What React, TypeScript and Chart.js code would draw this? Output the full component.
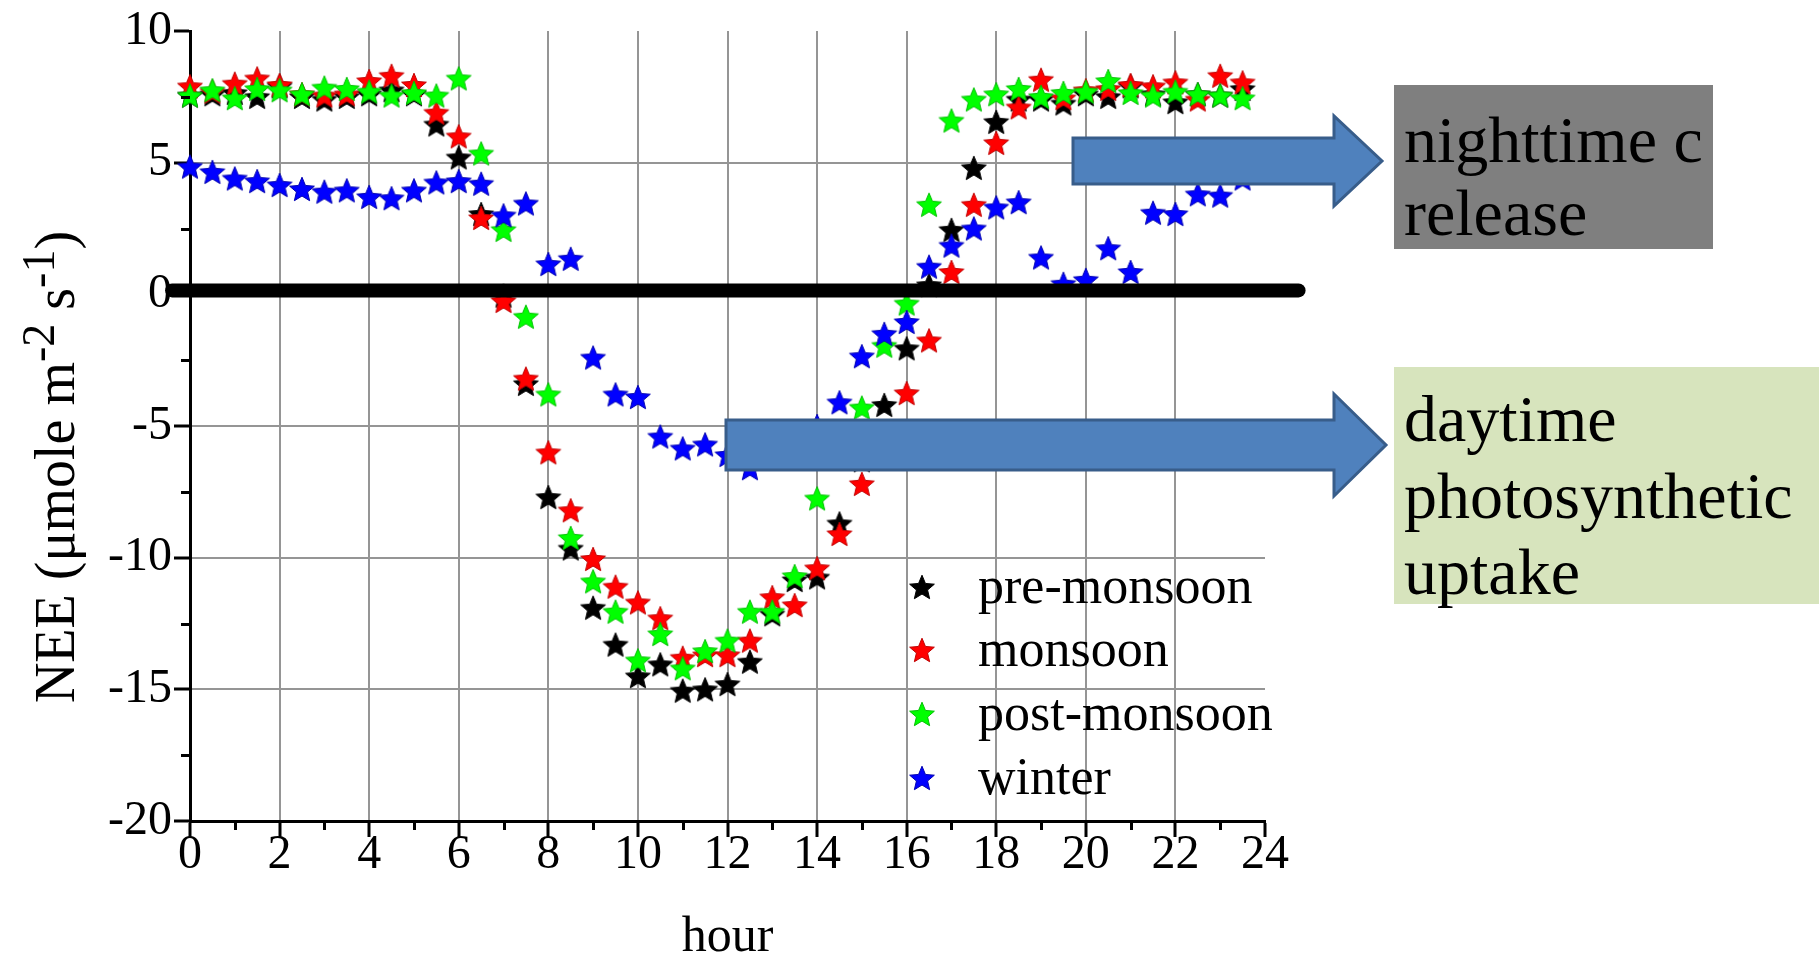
import React, { useEffect, useRef } from 'react';
import { Chart, registerables } from 'chart.js';

Chart.register(...registerables);

const FONT = "'Liberation Serif', 'Times New Roman', Times, serif";

// ---------------- data ----------------
const hours = [
  0, 0.5, 1, 1.5, 2, 2.5, 3, 3.5, 4, 4.5, 5, 5.5, 6, 6.5, 7, 7.5, 8, 8.5, 9, 9.5, 10, 10.5, 11, 11.5,
  12, 12.5, 13, 13.5, 14, 14.5, 15, 15.5, 16, 16.5, 17, 17.5, 18, 18.5, 19, 19.5, 20, 20.5, 21, 21.5, 22, 22.5, 23, 23.5,
];

const preMonsoon = [
  7.55, 7.6, 7.65, 7.5, 7.9, 7.5, 7.4, 7.5, 7.6, 7.75, 7.6, 6.45, 5.2, 3.05, -0.05, -3.4, -7.7, -9.65, -11.9, -13.3,
  -14.5, -14.05, -15.05, -15.0, -14.8, -13.95, -12.15, -10.85, -10.75, -8.7, -6.3, -4.2, -2.05, 0.35, 2.45, 4.8,
  6.55, 7.4, 7.4, 7.25, 7.6, 7.5, 7.9, 7.6, 7.3, 7.6, 7.55, 7.8,
];

const monsoon = [
  7.9, 7.7, 8.0, 8.2, 7.95, 7.6, 7.55, 7.6, 8.1, 8.3, 7.95, 6.9, 6.0, 2.9, -0.25, -3.2, -6.0, -8.2, -10.05, -11.1,
  -11.7, -12.3, -13.8, -13.7, -13.7, -13.15, -11.5, -11.8, -10.4, -9.1, -7.2, -5.6, -3.75, -1.75, 0.85, 3.4,
  5.75, 7.1, 8.15, 7.45, 7.75, 7.8, 7.95, 7.9, 8.05, 7.4, 8.3, 8.05,
];

const postMonsoon = [
  7.55, 7.75, 7.45, 7.8, 7.75, 7.6, 7.85, 7.8, 7.7, 7.55, 7.65, 7.55, 8.2, 5.35, 2.45, -0.85, -3.8, -9.25, -10.9, -12.05,
  -13.9, -12.9, -14.2, -13.55, -13.15, -12.05, -12.05, -10.7, -7.75, -6.0, -4.3, -1.95, -0.35, 3.4, 6.6, 7.4,
  7.6, 7.8, 7.5, 7.65, 7.7, 8.1, 7.65, 7.55, 7.7, 7.6, 7.55, 7.45,
];

const winter = [
  4.85, 4.65, 4.4, 4.3, 4.15, 4.0, 3.9, 3.95, 3.7, 3.65, 3.95, 4.25, 4.3, 4.2, 3.0, 3.45, 1.15, 1.35, -2.4, -3.8,
  -3.9, -5.4, -5.85, -5.7, -6.1, -6.6, -6.2, -5.6, -5.0, -4.1, -2.35, -1.5, -1.05, 1.05, 1.85, 2.5,
  3.3, 3.5, 1.4, 0.4, 0.55, 1.75, 0.85, 3.1, 3.05, 3.8, 3.75, 4.4,
];

const seriesNames = ['pre-monsoon', 'monsoon', 'post-monsoon', 'winter'];
const seriesColors = ['#000000', '#ff0000', '#00ff00', '#0000ff'];
const seriesEdges = ['#000000', '#c00000', '#00c000', '#0000b0'];
const drawOrder = [3, 2, 1, 0];

const xMin = 0;
const xMax = 24;
const xStep = 1;
const yMin = -20;
const yMax = 10;
const yStep = 2.5;

const xTitle = 'hour';
const yTitleParts = [
  { text: 'NEE (\u03bcmole m', sup: false },
  { text: '-2', sup: true },
  { text: ' s', sup: false },
  { text: '-1', sup: true },
  { text: ')', sup: false },
];

const zeroLineValue = 0.15;
const zeroLineFrom = -0.4;
const zeroLineTo = 24.75;

const nightText = ['nighttime c', 'release'];
const dayText = ['daytime', 'photosynthetic', 'uptake'];

// ---------------- helpers ----------------
function makeStar(fill: string, edge: string) {
  const size = 30;
  const c = document.createElement('canvas');
  c.width = size;
  c.height = size;
  const g = c.getContext('2d') as CanvasRenderingContext2D;
  const R = 13;
  const r = R * 0.45;
  const cx = size / 2;
  const cy = size / 2 + 1.2;
  g.beginPath();
  for (let i = 0; i < 10; i++) {
    const a = -Math.PI / 2 + (i * Math.PI) / 5;
    const rad = i % 2 === 0 ? R : r;
    g.lineTo(cx + rad * Math.cos(a), cy + rad * Math.sin(a));
  }
  g.closePath();
  g.fillStyle = fill;
  g.fill();
  g.lineWidth = 1;
  g.strokeStyle = edge;
  g.stroke();
  return c;
}

function drawArrow(
  ctx: CanvasRenderingContext2D,
  x0: number,
  x1: number,
  tip: number,
  cy: number,
  shaftHalf: number,
  headHalf: number
) {
  ctx.beginPath();
  ctx.moveTo(x0, cy - shaftHalf);
  ctx.lineTo(x1, cy - shaftHalf);
  ctx.lineTo(x1, cy - headHalf);
  ctx.lineTo(tip, cy);
  ctx.lineTo(x1, cy + headHalf);
  ctx.lineTo(x1, cy + shaftHalf);
  ctx.lineTo(x0, cy + shaftHalf);
  ctx.closePath();
  ctx.fillStyle = '#4f81bd';
  ctx.fill();
  ctx.lineWidth = 3;
  ctx.lineJoin = 'miter';
  ctx.strokeStyle = '#385d8a';
  ctx.stroke();
}

export default function App() {
  const ref = useRef<HTMLCanvasElement>(null);

  useEffect(() => {
    const canvas = ref.current;
    if (!canvas) return;
    Chart.defaults.font.family = FONT;

    const stars = seriesColors.map((c, i) => makeStar(c, seriesEdges[i]));
    const seriesValues = [preMonsoon, monsoon, postMonsoon, winter];

    const datasets = seriesNames.map((name, i) => ({
      label: name,
      data: hours.map((h, j) => ({ x: h, y: seriesValues[i][j] })),
      pointStyle: stars[i] as any,
      pointRadius: 12,
      showLine: false,
      order: drawOrder[i],
      clip: false as any,
      backgroundColor: seriesColors[i],
      borderColor: seriesColors[i],
    }));

    const overlay = {
      id: 'overlay',
      afterDraw(chart: any) {
        const ctx: CanvasRenderingContext2D = chart.ctx;
        const xs = chart.scales.x;
        const ys = chart.scales.y;
        const area = chart.chartArea;
        ctx.save();

        // minor ticks
        ctx.strokeStyle = '#000';
        ctx.lineWidth = 3;
        xs.ticks.forEach((t: any) => {
          if (t.value % 2 !== 0) {
            const p = Math.round(xs.getPixelForValue(t.value)) + 0.5;
            ctx.beginPath();
            ctx.moveTo(p, area.bottom);
            ctx.lineTo(p, area.bottom + 9);
            ctx.stroke();
          }
        });
        ys.ticks.forEach((t: any) => {
          if (t.value % 5 !== 0) {
            const p = Math.round(ys.getPixelForValue(t.value)) + 0.5;
            ctx.beginPath();
            ctx.moveTo(area.left - 9, p);
            ctx.lineTo(area.left, p);
            ctx.stroke();
          }
        });

        // thick zero line
        ctx.beginPath();
        ctx.lineCap = 'round';
        ctx.lineWidth = 14;
        ctx.strokeStyle = '#000';
        const zy = ys.getPixelForValue(zeroLineValue);
        ctx.moveTo(xs.getPixelForValue(zeroLineFrom), zy);
        ctx.lineTo(xs.getPixelForValue(zeroLineTo), zy);
        ctx.stroke();
        ctx.lineCap = 'butt';

        // arrows
        drawArrow(ctx, 1073, 1334, 1382, 161, 23, 45);
        drawArrow(ctx, 726, 1334, 1386, 445, 25, 51);

        // boxes
        ctx.fillStyle = '#7f7f7f';
        ctx.fillRect(1394, 85, 319, 164);
        ctx.fillStyle = '#d7e4bd';
        ctx.fillRect(1394, 367, 425, 237);
        ctx.fillStyle = '#000';
        ctx.font = `66px ${FONT}`;
        ctx.textAlign = 'left';
        ctx.textBaseline = 'alphabetic';
        const nightBase = [162, 235];
        nightText.forEach((t, i) => ctx.fillText(t, 1404, nightBase[i]));
        const dayBase = [441, 518, 594];
        dayText.forEach((t, i) => ctx.fillText(t, 1404, dayBase[i]));

        // legend
        const legRows = [587, 650, 714, 778];
        ctx.font = `52px ${FONT}`;
        ctx.textBaseline = 'middle';
        seriesNames.forEach((n, i) => {
          const s = stars[i];
          ctx.drawImage(s, 922 - s.width / 2, legRows[i] - s.height / 2);
          ctx.fillStyle = '#000';
          ctx.fillText(n, 978, legRows[i] + 2);
        });

        // y title with superscripts
        ctx.save();
        ctx.translate(74, 467);
        ctx.rotate(-Math.PI / 2);
        ctx.textBaseline = 'alphabetic';
        ctx.textAlign = 'left';
        ctx.fillStyle = '#000';
        let total = 0;
        const widths = yTitleParts.map((p) => {
          ctx.font = p.sup ? `46px ${FONT}` : `56px ${FONT}`;
          const w = ctx.measureText(p.text).width;
          total += w;
          return w;
        });
        let x = -total / 2;
        yTitleParts.forEach((p, i) => {
          ctx.font = p.sup ? `46px ${FONT}` : `56px ${FONT}`;
          ctx.fillText(p.text, x, p.sup ? -20 : 0);
          x += widths[i];
        });
        ctx.restore();

        ctx.restore();
      },
    };

    const gray = '#959595';
    const none = 'rgba(0,0,0,0)';

    const chart = new Chart(canvas, {
      type: 'scatter',
      data: { datasets: datasets as any },
      options: {
        responsive: false,
        animation: false,
        events: [],
        layout: { padding: { left: 0, right: 554, top: 31, bottom: 0 } },
        plugins: {
          legend: { display: false },
          tooltip: { enabled: false },
        },
        scales: {
          x: {
            type: 'linear',
            position: 'bottom',
            min: xMin,
            max: xMax,
            afterFit: (s: any) => {
              s.height = 136;
            },
            ticks: {
              stepSize: xStep,
              autoSkip: false,
              maxRotation: 0,
              color: '#000',
              padding: -6,
              font: { family: FONT, size: 48, lineHeight: 1 },
              callback: (v: any) => (Number(v) % 2 === 0 ? String(v) : ''),
            },
            grid: {
              color: (c: any) => {
                const v = c.tick ? c.tick.value : NaN;
                return v % 2 === 0 && v !== xMin && v !== xMax ? gray : none;
              },
              lineWidth: 2,
              drawTicks: true,
              tickLength: 16,
              tickWidth: 3,
              tickColor: (c: any) => (c.tick && c.tick.value % 2 === 0 ? '#000' : none),
            },
            border: { color: '#000', width: 3 },
            title: {
              display: true,
              text: xTitle,
              color: '#000',
              font: { family: FONT, size: 50, lineHeight: 1 },
              padding: { top: 0, bottom: -6 },
            },
          },
          y: {
            type: 'linear',
            min: yMin,
            max: yMax,
            afterFit: (s: any) => {
              s.width = 190;
            },
            ticks: {
              stepSize: yStep,
              color: '#000',
              padding: 2,
              font: { family: FONT, size: 48 },
              callback: (v: any) => (Number(v) % 5 === 0 ? String(v) : ''),
            },
            grid: {
              color: (c: any) => {
                const v = c.tick ? c.tick.value : NaN;
                return v % 5 === 0 && v !== yMin && v !== yMax ? gray : none;
              },
              lineWidth: 2,
              drawTicks: true,
              tickLength: 16,
              tickWidth: 3,
              tickColor: (c: any) => (c.tick && c.tick.value % 5 === 0 ? '#000' : none),
            },
            border: { color: '#000', width: 3 },
          },
        },
      },
      plugins: [overlay],
    });

    return () => chart.destroy();
  }, []);

  return (
    <div style={{ position: 'absolute', left: 0, top: 0, width: 1819, height: 957, background: '#fff' }}>
      <canvas ref={ref} width={1819} height={957} style={{ display: 'block', width: 1819, height: 957 }} />
    </div>
  );
}
